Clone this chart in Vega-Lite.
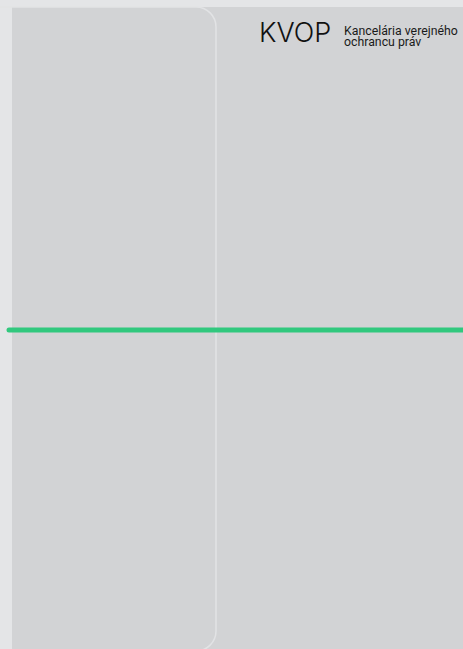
{
  "$schema": "https://vega.github.io/schema/vega-lite/v6.json",
  "width": 463,
  "height": 649,
  "autosize": {"type": "fit", "contains": "padding"},
  "padding": 0,
  "background": "#e4e5e7",
  "config": {"view": {"stroke": null}},
  "datasets": {
    "panels": [{"x": 12, "x2": 480, "y": 7, "y2": 670}],
    "frames": [{"x": -40, "x2": 216, "y": 7, "y2": 651}],
    "lines": [{"x": 9, "x2": 480, "y": 330}],
    "logo": [{"x": 259, "y": 42, "label": "KVOP"}],
    "names": [
      {"x": 344, "y": 35, "label": "Kancelária verejného"},
      {"x": 344, "y": 46, "label": "ochrancu práv"}
    ]
  },
  "layer": [
    {
      "data": {"name": "panels"},
      "mark": {"type": "rect", "fill": "#d2d3d5", "clip": true},
      "encoding": {
        "x": {"field": "x", "type": "quantitative", "scale": {"domain": [0, 463], "nice": false, "zero": false}, "axis": null},
        "x2": {"field": "x2"},
        "y": {"field": "y", "type": "quantitative", "scale": {"domain": [0, 649], "nice": false, "zero": false, "reverse": true}, "axis": null},
        "y2": {"field": "y2"}
      }
    },
    {
      "data": {"name": "frames"},
      "mark": {"type": "rect", "fill": null, "fillOpacity": 0, "stroke": "#e2e3e5", "strokeWidth": 1.5, "cornerRadius": 20, "clip": true},
      "encoding": {
        "x": {"field": "x", "type": "quantitative", "axis": null},
        "x2": {"field": "x2"},
        "y": {"field": "y", "type": "quantitative", "axis": null},
        "y2": {"field": "y2"}
      }
    },
    {
      "data": {"name": "lines"},
      "mark": {"type": "rule", "stroke": "#31c87e", "strokeWidth": 5, "strokeCap": "round", "clip": true},
      "encoding": {
        "x": {"field": "x", "type": "quantitative", "axis": null},
        "x2": {"field": "x2"},
        "y": {"field": "y", "type": "quantitative", "axis": null}
      }
    },
    {
      "data": {"name": "logo"},
      "mark": {"type": "text", "font": "Inter", "fontWeight": 300, "fontSize": 27, "align": "left", "baseline": "alphabetic", "color": "#111111"},
      "encoding": {
        "x": {"field": "x", "type": "quantitative", "axis": null},
        "y": {"field": "y", "type": "quantitative", "axis": null},
        "text": {"field": "label"}
      }
    },
    {
      "data": {"name": "names"},
      "mark": {"type": "text", "font": "Roboto", "fontSize": 12.3, "align": "left", "baseline": "alphabetic", "color": "#1a1a1a"},
      "encoding": {
        "x": {"field": "x", "type": "quantitative", "axis": null},
        "y": {"field": "y", "type": "quantitative", "axis": null},
        "text": {"field": "label"}
      }
    }
  ]
}
